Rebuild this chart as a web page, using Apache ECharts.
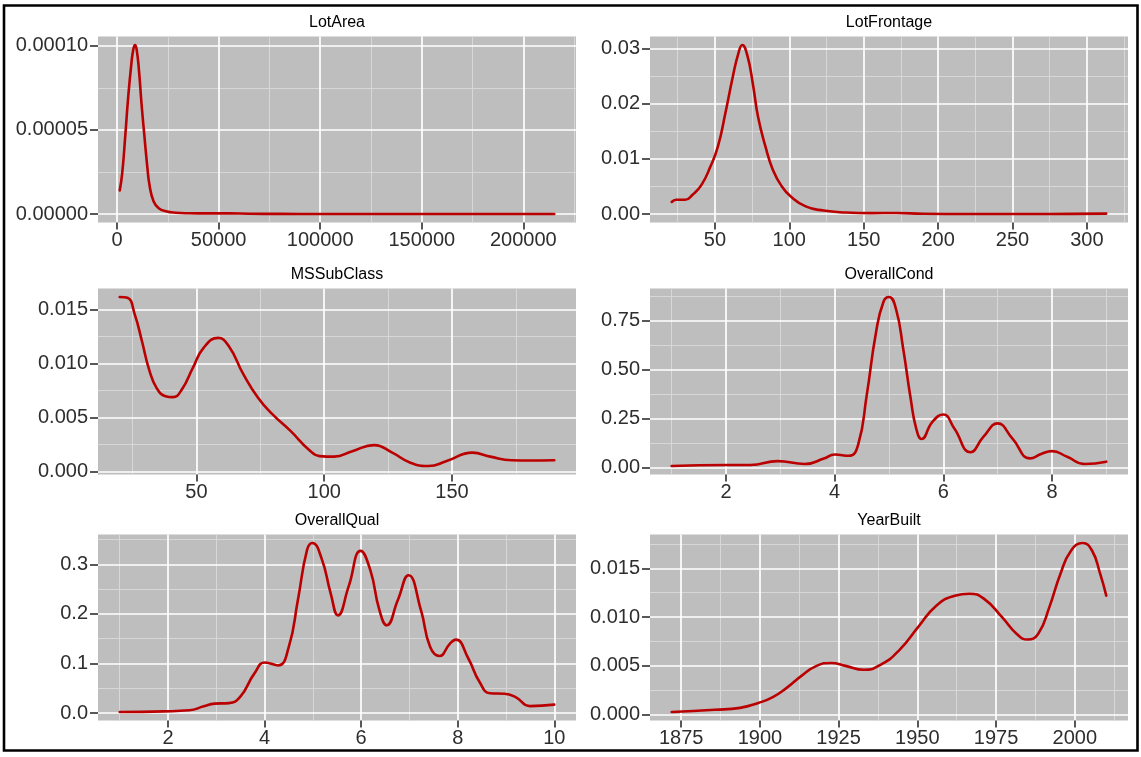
<!DOCTYPE html>
<html>
<head>
<meta charset="utf-8">
<title>Density of numeric features</title>
<script src="https://cdn.jsdelivr.net/npm/echarts@6.0.0/dist/echarts.min.js"></script>
<style>
  html, body { margin: 0; padding: 0; background: #ffffff; }
  #chart { width: 1141px; height: 757px; }
</style>
</head>
<body>
<div id="chart"></div>
<script>
// ---- Kernel density estimates (x, density) for each feature ----
const lotAreaX = [1300, 2500, 4000, 5500, 7000, 8000, 8800, 9600, 10800, 12000, 13400, 14800, 16000, 18000, 20500, 24000, 29000, 35000, 45000, 55000, 65000, 80000, 100000, 130000, 160000, 190000, 215245];
const lotAreaY = [0.000014, 0.000024, 0.000046, 0.000070, 0.000089, 0.000098, 0.0001005, 0.000098, 0.000085, 0.000066, 0.000047, 0.000029, 0.000017, 0.0000075, 0.0000035, 0.0000017, 0.0000008, 0.0000005, 0.0000004, 0.0000004, 0.0000002, 0.0000001, 0.00000005, 0.00000003, 0.00000002, 0.00000001, 0.00000001];

const lotFrontageX = [21, 24, 30, 35, 41, 47, 52, 57, 62, 65.7, 68.4, 71.8, 75.5, 79, 84, 89, 95, 101, 111, 123, 138, 155, 172, 190, 220, 260, 290, 313];
const lotFrontageY = [0.0022, 0.0026, 0.0026, 0.0035, 0.0053, 0.0086, 0.0122, 0.0182, 0.0248, 0.029, 0.0306, 0.0287, 0.0236, 0.0176, 0.0122, 0.008, 0.005, 0.0032, 0.0014, 0.00065, 0.0003, 0.00018, 0.00022, 0.00006, 0.00003, 0.00002, 0.00005, 0.0001];

const msSubClassX = [20, 23, 25.9, 28.7, 31.5, 34.4, 37.9, 40.8, 44.3, 48.6, 52.8, 58.5, 62.7, 68.4, 74.1, 79.8, 86.9, 93.9, 98.2, 103.9, 111, 119.5, 126.6, 133.7, 140.8, 147.9, 158, 164.9, 173.4, 180, 190];
const msSubClassY = [0.01617, 0.0161, 0.01454, 0.01207, 0.00945, 0.00776, 0.00699, 0.0069, 0.0076, 0.0096, 0.01146, 0.01238, 0.0116, 0.009, 0.00684, 0.0053, 0.00375, 0.00206, 0.00144, 0.00139, 0.0019, 0.00246, 0.00176, 0.00083, 0.00052, 0.00098, 0.00176, 0.00139, 0.00105, 0.00103, 0.00105];

const overallCondX = [1, 2, 2.45, 2.95, 3.45, 3.8, 4.0, 4.26, 4.43, 4.59, 4.76, 4.9, 5.0, 5.13, 5.26, 5.4, 5.5, 5.6, 5.8, 6.0, 6.2, 6.5, 6.74, 7.0, 7.27, 7.6, 7.8, 8.0, 8.28, 8.6, 9];
const overallCondY = [0.0066, 0.012, 0.012, 0.032, 0.017, 0.045, 0.066, 0.059, 0.114, 0.37, 0.69, 0.85, 0.873, 0.81, 0.61, 0.35, 0.2, 0.145, 0.233, 0.271, 0.2, 0.077, 0.157, 0.225, 0.148, 0.046, 0.068, 0.083, 0.054, 0.017, 0.029];

const overallQualX = [1, 1.91, 2.44, 2.74, 2.96, 3.26, 3.49, 3.79, 4.01, 4.28, 4.5, 4.69, 4.88, 4.99, 5.18, 5.37, 5.52, 5.74, 5.99, 6.19, 6.38, 6.53, 6.76, 6.98, 7.24, 7.43, 7.62, 7.84, 7.96, 8.22, 8.45, 8.67, 8.97, 9.2, 9.5, 10];
const overallQualY = [0.002, 0.0034, 0.0055, 0.0135, 0.019, 0.02, 0.032, 0.08, 0.102, 0.096, 0.133, 0.228, 0.329, 0.343, 0.312, 0.241, 0.197, 0.255, 0.327, 0.288, 0.207, 0.177, 0.228, 0.278, 0.207, 0.133, 0.115, 0.14, 0.148, 0.11, 0.063, 0.04, 0.039, 0.032, 0.014, 0.017];

const yearBuiltX = [1872, 1885.6, 1893.7, 1899.5, 1904.1, 1908.7, 1913.3, 1918, 1922.6, 1927.2, 1933, 1938.8, 1944.5, 1950.3, 1956.1, 1961.9, 1966.5, 1971.1, 1976.9, 1981.5, 1985, 1988.4, 1991.9, 1995.4, 1998.8, 2002.5, 2005.5, 2008, 2010];
const yearBuiltY = [0.00027, 0.0005, 0.0007, 0.0012, 0.0018, 0.0028, 0.004, 0.005, 0.0053, 0.005, 0.0046, 0.0052, 0.0067, 0.009, 0.0112, 0.0122, 0.0124, 0.0119, 0.01, 0.0083, 0.0077, 0.0083, 0.011, 0.0144, 0.0168, 0.0176, 0.0168, 0.0145, 0.0122];

// ---- Panel titles and axis breaks ----
const panelTitles = ['LotArea', 'LotFrontage', 'MSSubClass', 'OverallCond', 'OverallQual', 'YearBuilt'];

const lotAreaXTicks = [0, 50000, 100000, 150000, 200000];
const lotAreaXMinor = [25000, 75000, 125000, 175000, 225000];
const lotAreaYTicks = [0, 0.00005, 0.0001];
const lotAreaYMinor = [0.000025, 0.000075];

const lotFrontageXTicks = [50, 100, 150, 200, 250, 300];
const lotFrontageXMinor = [25, 75, 125, 175, 225, 275, 325];
const lotFrontageYTicks = [0, 0.01, 0.02, 0.03];
const lotFrontageYMinor = [0.005, 0.015, 0.025];

const msSubClassXTicks = [50, 100, 150];
const msSubClassXMinor = [25, 75, 125, 175];
const msSubClassYTicks = [0, 0.005, 0.01, 0.015];
const msSubClassYMinor = [0.0025, 0.0075, 0.0125];

const overallCondXTicks = [2, 4, 6, 8];
const overallCondXMinor = [1, 3, 5, 7, 9];
const overallCondYTicks = [0, 0.25, 0.5, 0.75];
const overallCondYMinor = [0.125, 0.375, 0.625, 0.875];

const overallQualXTicks = [2, 4, 6, 8, 10];
const overallQualXMinor = [1, 3, 5, 7, 9];
const overallQualYTicks = [0, 0.1, 0.2, 0.3];
const overallQualYMinor = [0.05, 0.15, 0.25, 0.35];

const yearBuiltXTicks = [1875, 1900, 1925, 1950, 1975, 2000];
const yearBuiltXMinor = [1887.5, 1912.5, 1937.5, 1962.5, 1987.5, 2012.5];
const yearBuiltYTicks = [0, 0.005, 0.01, 0.015];
const yearBuiltYMinor = [0.0025, 0.0075, 0.0125, 0.0175];

// decimals shown on each density axis
const yDecimals = [5, 2, 3, 2, 1, 3];

const panels = [
  { x: lotAreaX, y: lotAreaY, xt: lotAreaXTicks, xm: lotAreaXMinor, yt: lotAreaYTicks, ym: lotAreaYMinor },
  { x: lotFrontageX, y: lotFrontageY, xt: lotFrontageXTicks, xm: lotFrontageXMinor, yt: lotFrontageYTicks, ym: lotFrontageYMinor },
  { x: msSubClassX, y: msSubClassY, xt: msSubClassXTicks, xm: msSubClassXMinor, yt: msSubClassYTicks, ym: msSubClassYMinor },
  { x: overallCondX, y: overallCondY, xt: overallCondXTicks, xm: overallCondXMinor, yt: overallCondYTicks, ym: overallCondYMinor },
  { x: overallQualX, y: overallQualY, xt: overallQualXTicks, xm: overallQualXMinor, yt: overallQualYTicks, ym: overallQualYMinor },
  { x: yearBuiltX, y: yearBuiltY, xt: yearBuiltXTicks, xm: yearBuiltXMinor, yt: yearBuiltYTicks, ym: yearBuiltYMinor }
];

// ---- Layout: 2 columns x 3 rows of facets ----
const FONT = '"Liberation Sans", Arial, Helvetica, sans-serif';
const colLeft = [98, 650];
const rowTop = [36.5, 288.5, 534.5];
const panelW = 478;
const panelH = 186;

const PANEL_BG = '#BEBEBE';
const MAJOR = '#FFFFFF';
const MINOR = '#D7D7D7';
const INK = '#2E2E2E';
const CURVE = '#BA0000';

// data range padded by 5% on both sides
function padded(arr) {
  const lo = Math.min.apply(null, arr);
  const hi = Math.max.apply(null, arr);
  const d = (hi - lo) * 0.05;
  return [lo - d, hi + d];
}

const grids = [], xAxes = [], yAxes = [], series = [], titles = [];

panels.forEach(function (p, i) {
  const col = i % 2, row = Math.floor(i / 2);
  const left = colLeft[col], top = rowTop[row];
  grids.push({
    left: left, top: top, width: panelW, height: panelH,
    show: true, backgroundColor: PANEL_BG, borderWidth: 0
  });
  const xr = padded(p.x), yr = padded(p.y);
  const dec = yDecimals[i];

  // minor grid (drawn first)
  xAxes.push({
    gridIndex: i, type: 'value', min: xr[0], max: xr[1], position: 'top', z: 1,
    axisLine: { show: false, onZero: false },
    axisTick: { show: false, customValues: p.xm },
    axisLabel: { show: false },
    splitLine: { show: true, lineStyle: { color: MINOR, width: 1 } }
  });
  // major grid, ticks and labels
  xAxes.push({
    gridIndex: i, type: 'value', min: xr[0], max: xr[1], position: 'bottom', z: 2,
    axisLine: { show: false, onZero: false },
    axisTick: { show: true, length: 7, customValues: p.xt, lineStyle: { color: INK, width: 1.6 } },
    axisLabel: {
      customValues: p.xt, margin: 8, fontSize: 20, color: INK, fontFamily: FONT,
      formatter: function (v) { return String(v); }
    },
    splitLine: { show: true, lineStyle: { color: MAJOR, width: 1.7 } }
  });
  yAxes.push({
    gridIndex: i, type: 'value', min: yr[0], max: yr[1], position: 'right', z: 1,
    axisLine: { show: false, onZero: false },
    axisTick: { show: false, customValues: p.ym },
    axisLabel: { show: false },
    splitLine: { show: true, lineStyle: { color: MINOR, width: 1 } }
  });
  yAxes.push({
    gridIndex: i, type: 'value', min: yr[0], max: yr[1], position: 'left', z: 2,
    axisLine: { show: false, onZero: false },
    axisTick: { show: true, length: 8, customValues: p.yt, lineStyle: { color: INK, width: 1.6 } },
    axisLabel: {
      customValues: p.yt, margin: 10, fontSize: 20, color: INK, fontFamily: FONT,
      formatter: function (v) { return v.toFixed(dec); }
    },
    splitLine: { show: true, lineStyle: { color: MAJOR, width: 1.7 } }
  });

  series.push({
    type: 'line', xAxisIndex: 2 * i + 1, yAxisIndex: 2 * i + 1,
    data: p.x.map(function (x, k) { return [x, p.y[k]]; }),
    showSymbol: false, smooth: 0.5, silent: true, z: 5,
    lineStyle: { color: CURVE, width: 2.6, cap: 'round', join: 'round' }
  });

  titles.push({
    text: panelTitles[i], left: left + panelW / 2, top: top - 13.5, padding: 0,
    textAlign: 'center', textVerticalAlign: 'middle',
    textStyle: { fontSize: 16, fontWeight: 'normal', color: '#000', fontFamily: FONT }
  });
});

const chart = echarts.init(document.getElementById('chart'), null, { renderer: 'canvas' });
chart.setOption({
  backgroundColor: '#ffffff',
  animation: false,
  title: titles,
  grid: grids,
  xAxis: xAxes,
  yAxis: yAxes,
  series: series,
  graphic: [{
    type: 'rect', silent: true, z: 100,
    shape: { x: 4, y: 5.5, width: 1133.5, height: 745 },
    style: { fill: 'none', stroke: '#000000', lineWidth: 2.6 }
  }]
});
</script>
</body>
</html>
